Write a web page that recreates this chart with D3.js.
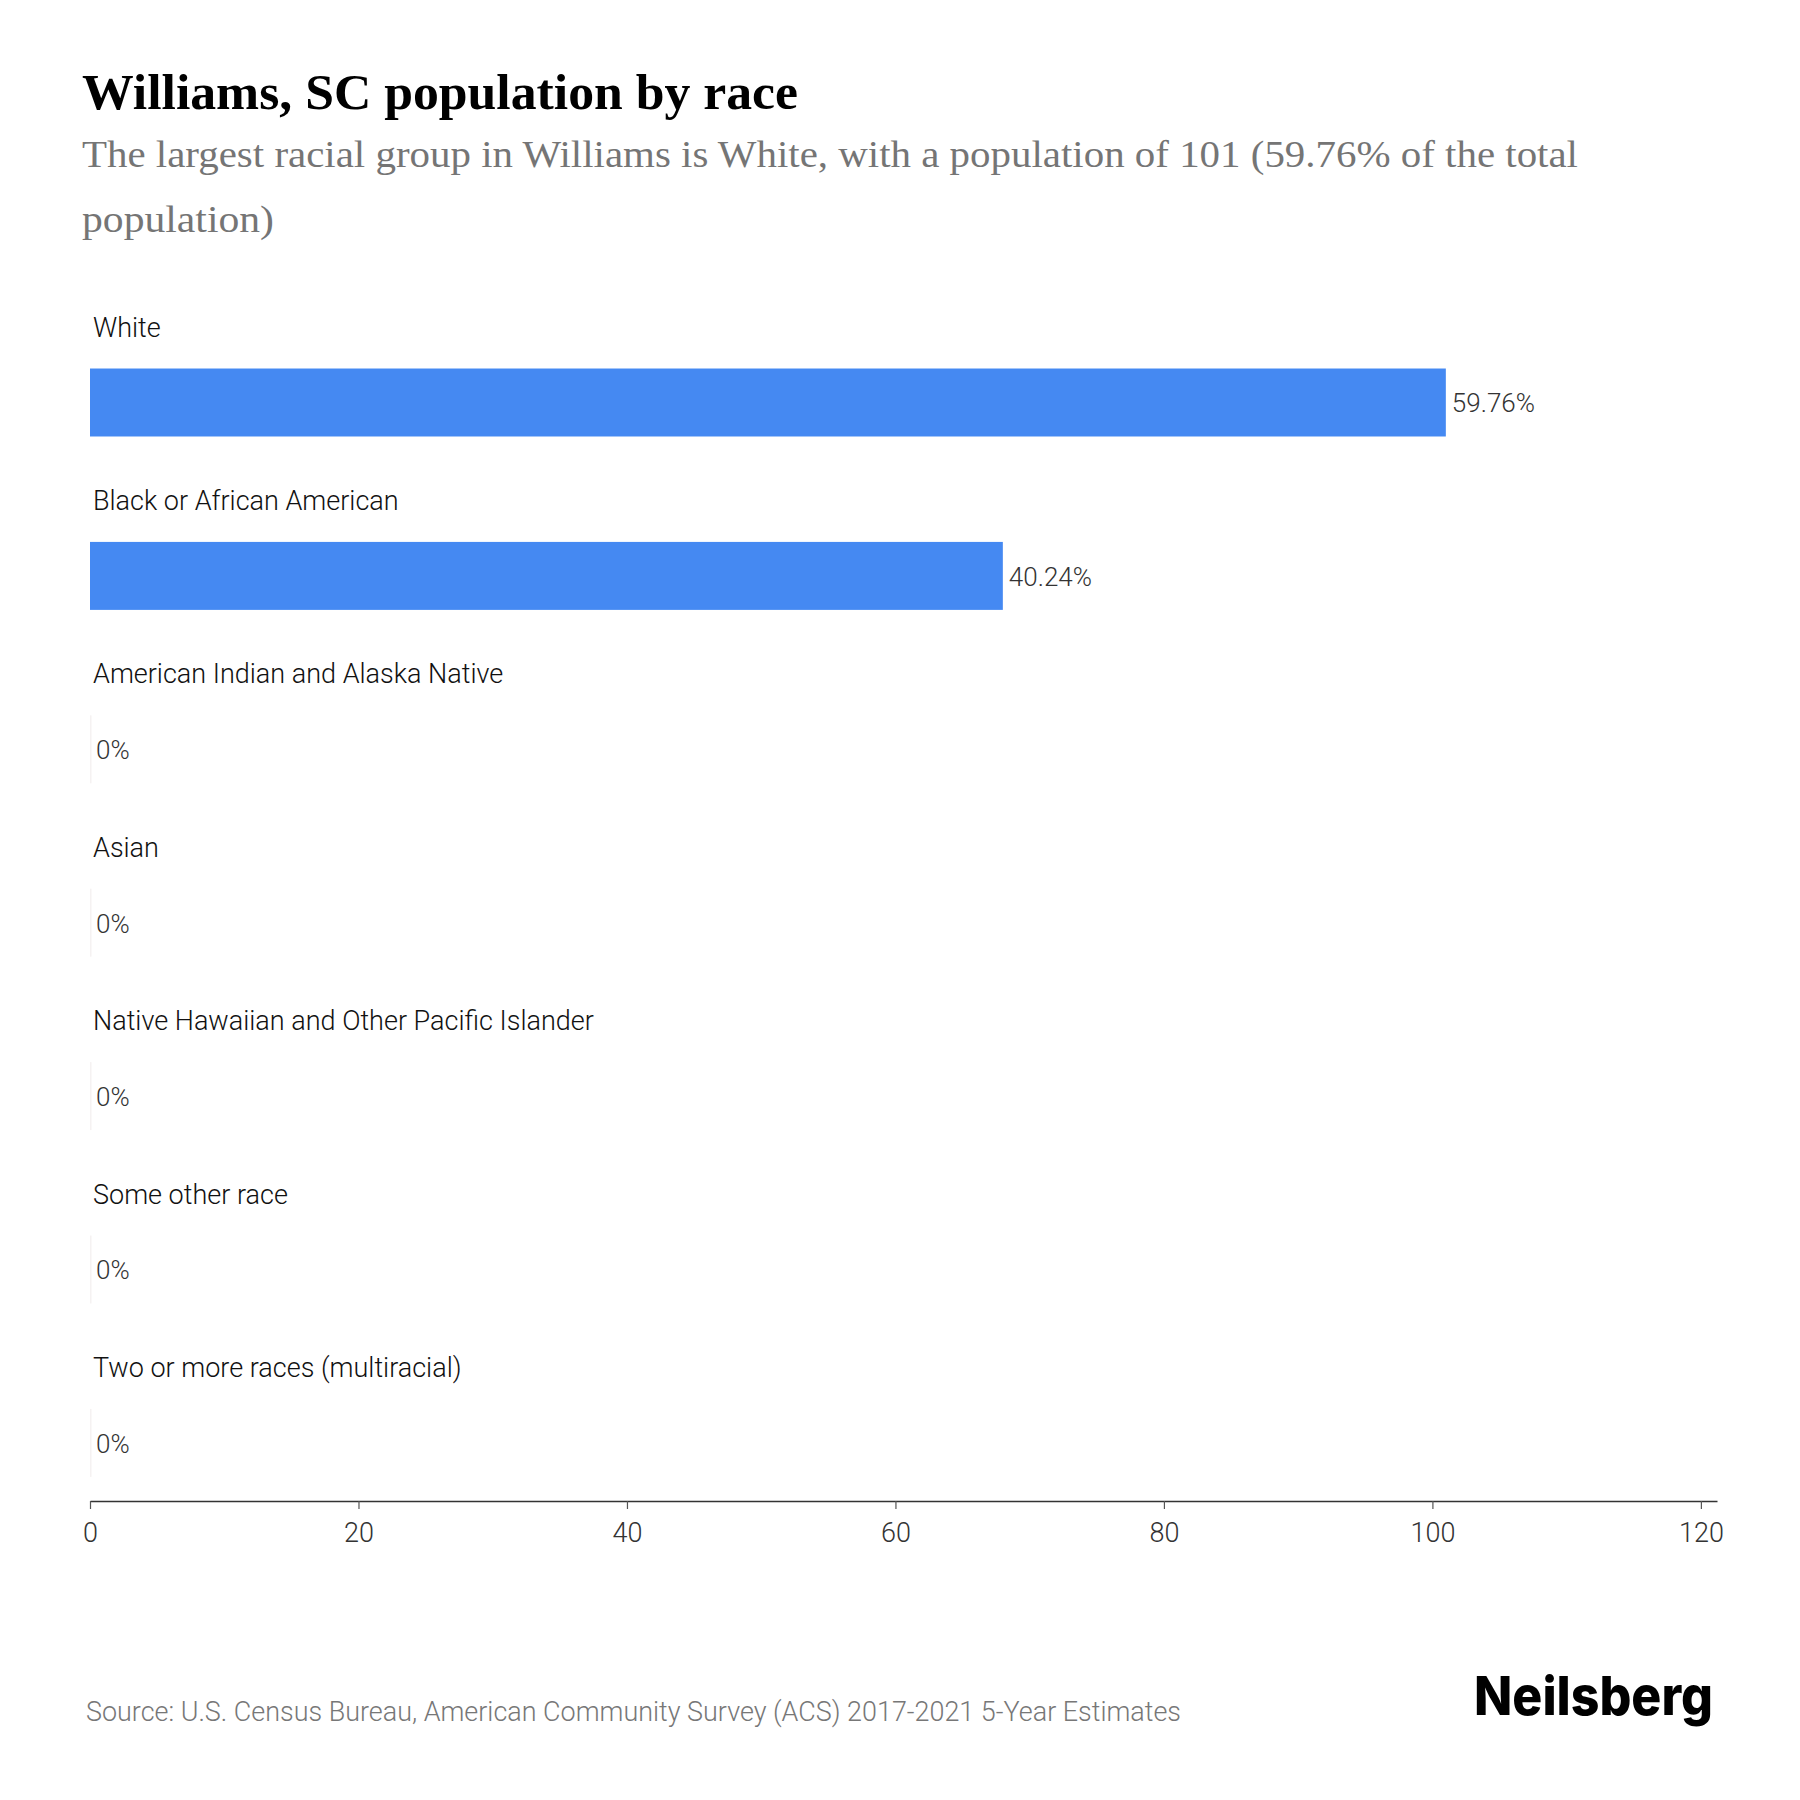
<!DOCTYPE html>
<html>
<head>
<meta charset="utf-8">
<script src="https://cdn.jsdelivr.net/npm/d3@7"></script>
<style>
  html, body { margin: 0; padding: 0; background: #fff; }
  svg { display: block; }
</style>
</head>
<body>
<div id="chart"></div>
<script>
const categories = [
  "White",
  "Black or African American",
  "American Indian and Alaska Native",
  "Asian",
  "Native Hawaiian and Other Pacific Islander",
  "Some other race",
  "Two or more races (multiracial)"
];
const populations = [101, 68, 0, 0, 0, 0, 0];
const percentLabels = ["59.76%", "40.24%", "0%", "0%", "0%", "0%", "0%"];
const xTickValues = [0, 20, 40, 60, 80, 100, 120];

const titleText = "Williams, SC population by race";
const subtitleLines = [
  "The largest racial group in Williams is White, with a population of 101 (59.76% of the total",
  "population)"
];
const sourceText = "Source: U.S. Census Bureau, American Community Survey (ACS) 2017-2021 5-Year Estimates";
const brandText = "Neilsberg";

const W = 1800, H = 1800;
const svg = d3.select("#chart").append("svg")
  .attr("width", W).attr("height", H)
  .attr("viewBox", `0 0 ${W} ${H}`);

svg.append("rect").attr("width", W).attr("height", H).attr("fill", "#fff");

// Title
svg.append("text")
  .attr("x", 82).attr("y", 109)
  .attr("font-family", "'Liberation Serif', 'DejaVu Serif', serif")
  .attr("font-weight", 700)
  .attr("font-size", 50)
  .attr("fill", "#000")
  .attr("textLength", 716)
  .attr("lengthAdjust", "spacingAndGlyphs")
  .text(titleText);

// Subtitle
const subW = [1496, 192];
const subY = [167, 232];
subtitleLines.forEach((t, i) => {
  svg.append("text")
    .attr("x", 82).attr("y", subY[i])
    .attr("font-family", "'Liberation Serif', 'DejaVu Serif', serif")
    .attr("font-size", 38)
    .attr("fill", "#757575")
    .attr("textLength", subW[i])
    .attr("lengthAdjust", "spacingAndGlyphs")
    .text(t);
});

const data = categories.map((c, i) => ({ cat: c, value: populations[i], label: percentLabels[i] }));

const x = d3.scaleLinear()
  .domain([0, d3.max(populations) * 1.2])
  .range([90, 1717]);

const y = d3.scaleBand()
  .domain(categories)
  .range([315.8, 1529.6])
  .paddingInner(0.608)
  .paddingOuter(0.304);

const g = svg.append("g");

// Bars
g.selectAll("rect.bar")
  .data(data)
  .join("rect")
  .attr("class", "bar")
  .attr("x", x(0))
  .attr("y", d => y(d.cat))
  .attr("width", d => d.value > 0 ? x(d.value) - x(0) : 1.5)
  .attr("height", y.bandwidth())
  .attr("fill", d => d.value > 0 ? "#4589f2" : "#f5f2f2");

// Category labels
g.selectAll("text.cat")
  .data(data)
  .join("text")
  .attr("class", "cat")
  .attr("x", 93)
  .attr("y", d => y(d.cat) - 32)
  .attr("font-family", "Roboto, sans-serif")
  .attr("font-weight", 300)
  .attr("font-size", 27)
  .attr("fill", "#111")
  .text(d => d.cat);

// Value labels
g.selectAll("text.val")
  .data(data)
  .join("text")
  .attr("class", "val")
  .attr("x", d => x(d.value) + 6)
  .attr("y", d => y(d.cat) + y.bandwidth() / 2)
  .attr("dy", "0.38em")
  .attr("font-family", "Roboto, sans-serif")
  .attr("font-weight", 300)
  .attr("font-size", 26)
  .attr("fill", "#333")
  .text(d => d.label);

// X axis
const axisY = 1501;
const axis = svg.append("g")
  .attr("transform", `translate(0,${axisY})`)
  .call(d3.axisBottom(x).tickValues(xTickValues).tickSize(8).tickSizeOuter(0).tickPadding(14));
axis.select(".domain").attr("stroke", "#333").attr("stroke-width", 1.5);
axis.selectAll(".tick line").attr("stroke", "#555").attr("stroke-width", 1.2);
axis.selectAll(".tick text")
  .attr("font-family", "Roboto, sans-serif")
  .attr("font-weight", 300)
  .attr("font-size", 27)
  .attr("fill", "#333");

// Source
svg.append("text")
  .attr("x", 86).attr("y", 1721)
  .attr("font-family", "Roboto, sans-serif")
  .attr("font-weight", 300)
  .attr("font-size", 27)
  .attr("fill", "#777")
  .attr("textLength", 1095)
  .attr("lengthAdjust", "spacingAndGlyphs")
  .text(sourceText);

// Brand
svg.append("text")
  .attr("x", 1474).attr("y", 1715)
  .attr("font-family", "Inter, 'Open Sans', sans-serif")
  .attr("font-weight", 800)
  .attr("font-size", 54)
  .attr("fill", "#000")
  .attr("textLength", 239)
  .attr("lengthAdjust", "spacingAndGlyphs")
  .text(brandText);
</script>
</body>
</html>
